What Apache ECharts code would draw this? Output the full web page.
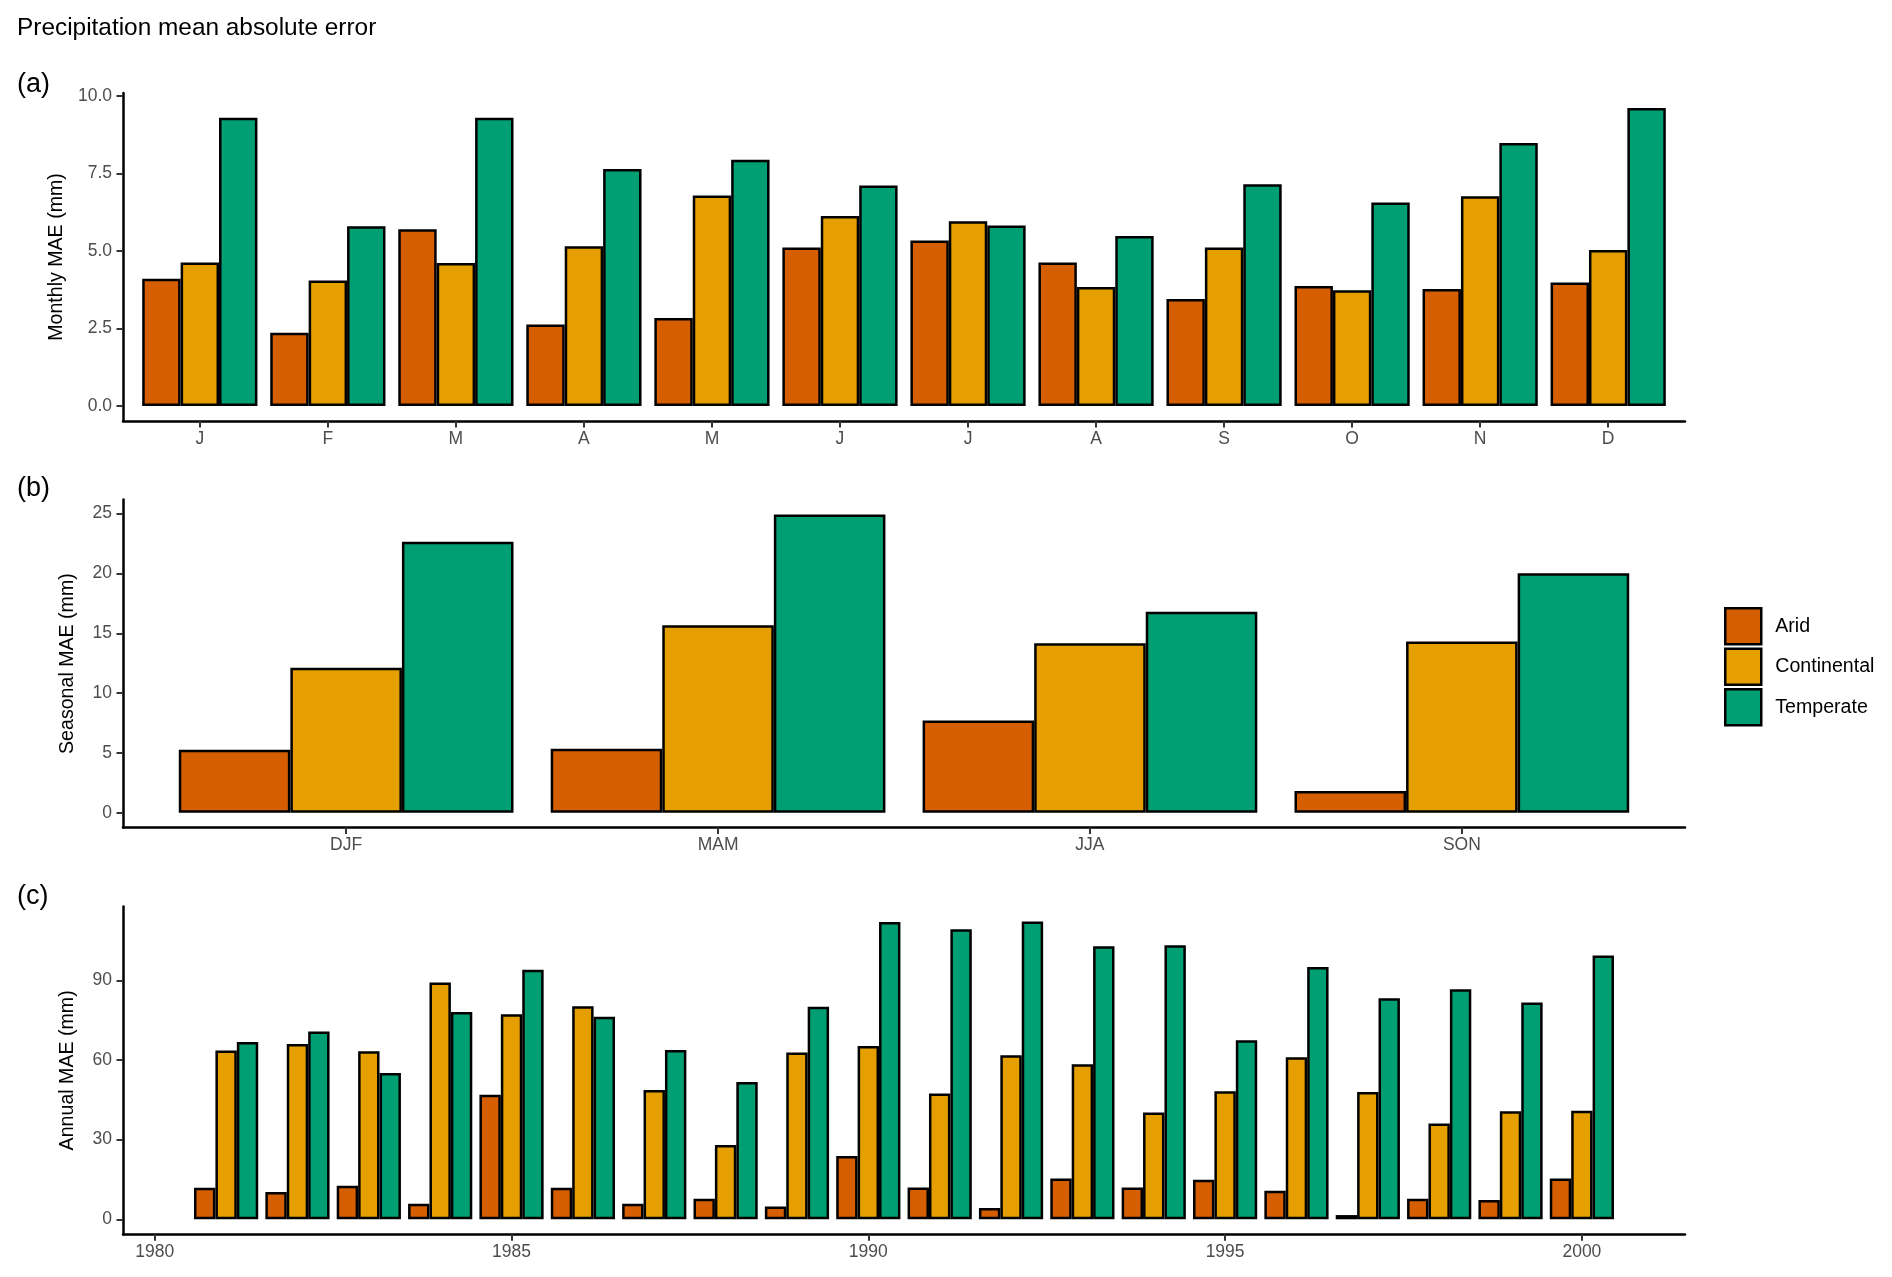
<!DOCTYPE html>
<html><head><meta charset="utf-8">
<script src="https://cdn.jsdelivr.net/npm/echarts@6/dist/echarts.min.js"></script>
<style>html,body{margin:0;padding:0;background:#fff}#c{width:1892px;height:1277px}</style>
</head><body><div id="c"></div>
<script>
// ---------- data ----------
const regions = ['Arid', 'Continental', 'Temperate'];
const monthKeys = ['Jan','Feb','Mar','Apr','May','Jun','Jul','Aug','Sep','Oct','Nov','Dec'];
const monthLabels = ['J','F','M','A','M','J','J','A','S','O','N','D'];
const monthlyArid        = [4.10, 2.36, 5.70, 2.63, 2.84, 5.11, 5.34, 4.63, 3.45, 3.87, 3.77, 3.98];
const monthlyContinental = [4.63, 4.05, 4.61, 5.15, 6.79, 6.13, 5.96, 3.84, 5.11, 3.73, 6.76, 5.03];
const monthlyTemperate   = [9.29, 5.80, 9.29, 7.64, 7.94, 7.11, 5.82, 5.48, 7.15, 6.56, 8.48, 9.61];

const seasons = ['DJF', 'MAM', 'JJA', 'SON'];
const seasonalArid        = [5.27, 5.35, 7.71, 1.81];
const seasonalContinental = [12.12, 15.67, 14.16, 14.32];
const seasonalTemperate   = [22.66, 24.93, 16.81, 20.02];

const years = [1981,1982,1983,1984,1985,1986,1987,1988,1989,1990,1991,1992,1993,1994,1995,1996,1997,1998,1999,2000];
const annualArid        = [11.9, 10.3, 12.6, 5.9, 46.9, 11.9, 5.9, 7.7, 4.8, 23.8, 12.0, 4.3, 15.4, 12.0, 14.9, 10.8, 1.6, 7.7, 7.3, 15.4];
const annualContinental = [63.6, 66.0, 63.3, 89.2, 77.2, 80.2, 48.7, 28.0, 62.8, 65.3, 47.4, 61.8, 58.4, 40.2, 48.2, 61.0, 47.9, 36.1, 40.7, 40.9];
const annualTemperate   = [66.8, 70.7, 55.1, 78.1, 94.0, 76.3, 63.8, 51.7, 80.1, 112.0, 109.2, 112.2, 102.8, 103.2, 67.4, 95.0, 83.3, 86.6, 81.7, 99.4];

const monthlyTicks = [0, 2.5, 5, 7.5, 10];
const seasonalTicks = [0, 5, 10, 15, 20, 25];
const annualTicks = [0, 30, 60, 90];
const yearTicks = [1980, 1985, 1990, 1995, 2000];

// ---------- style / layout ----------
const colors = ['#D55E00', '#E69F00', '#009E73'];
const FONT = '"Liberation Sans", Arial, Helvetica, sans-serif';
const axL = 123, axR = 1685, axW = axR - axL;
const panels = [
  {top: 93, bottom: 421},
  {top: 499.6, bottom: 827.6},
  {top: 906.5, bottom: 1234.2}
];
const tickStyle = {color: '#333333', width: 2};
const lineStyle = {color: '#000', width: 2.5};
const tickLabel = {fontSize: 17.5, color: '#4D4D4D', fontFamily: FONT};

function yRange(arrs) {
  const mx = Math.max(...arrs.flat());
  return [-0.05 * mx, 1.05 * mx];
}

const grids = [], xAxes = [], yAxes = [], series = [];

function addPanel(idx, cats, catFmt, valueArrs, ticks, tickFmt, yName, continuous) {
  const p = panels[idx];
  const [ymin, ymax] = yRange(valueArrs);
  const h = p.bottom - p.top;
  const gA = grids.length;
  grids.push({left: axL, top: p.top, width: axW, height: h});
  let barLeft, barWidth;
  if (continuous) {
    const lo = years[0] - 0.45, hi = years[years.length - 1] + 0.45;
    const pad = 0.05 * (hi - lo);
    const xmin = lo - pad, xmax = hi + pad;
    const sc = axW / (xmax - xmin);
    barLeft = axL + (years[0] - 0.5 - xmin) * sc;
    barWidth = years.length * sc;
    xAxes.push({gridIndex: gA, type: 'value', min: xmin, max: xmax,
      axisLine: {show: true, onZero: false, lineStyle: lineStyle},
      axisTick: {show: true, length: 6.5, lineStyle: tickStyle, customValues: yearTicks},
      axisLabel: Object.assign({show: true, margin: 9, customValues: yearTicks, formatter: v => String(v)}, tickLabel),
      splitLine: {show: false}});
  } else {
    const band = axW / (cats.length + 0.2);
    barLeft = axL + 0.1 * band;
    barWidth = cats.length * band;
    xAxes.push({gridIndex: gA, type: 'value', min: 0, max: 1,
      axisLine: {show: true, onZero: false, lineStyle: lineStyle},
      axisTick: {show: false}, axisLabel: {show: false}, splitLine: {show: false}});
  }
  yAxes.push({gridIndex: gA, type: 'value', min: ymin, max: ymax,
    axisLine: {show: true, lineStyle: lineStyle},
    axisTick: {show: true, length: 6.5, lineStyle: tickStyle, customValues: ticks},
    axisLabel: Object.assign({show: true, margin: 11, customValues: ticks, formatter: tickFmt}, tickLabel),
    splitLine: {show: false},
    name: yName, nameLocation: 'middle', nameGap: 45,
    nameTextStyle: {fontSize: 19.6, color: '#000', fontFamily: FONT}});
  const gB = grids.length;
  grids.push({left: barLeft, top: p.top, width: barWidth, height: h});
  xAxes.push({gridIndex: gB, type: 'category', data: cats,
    axisLine: {show: false, onZero: false},
    axisTick: {show: !continuous, alignWithLabel: true, length: 6.5, lineStyle: tickStyle},
    axisLabel: Object.assign({show: !continuous, margin: 9, formatter: catFmt}, tickLabel),
    splitLine: {show: false}});
  yAxes.push({gridIndex: gB, type: 'value', min: ymin, max: ymax, show: false});
  valueArrs.forEach((arr, k) => {
    series.push({type: 'bar', name: regions[k], xAxisIndex: gB, yAxisIndex: gB,
      data: arr, barGap: '0%', barCategoryGap: '10%',
      itemStyle: {color: colors[k], borderColor: '#000', borderWidth: 2.5},
      emphasis: {disabled: true}});
  });
}

addPanel(0, monthKeys, (v, i) => monthLabels[i],
  [monthlyArid, monthlyContinental, monthlyTemperate], monthlyTicks, v => v.toFixed(1), 'Monthly MAE (mm)', false);
addPanel(1, seasons, v => v,
  [seasonalArid, seasonalContinental, seasonalTemperate], seasonalTicks, v => String(v), 'Seasonal MAE (mm)', false);
addPanel(2, years.map(String), v => v,
  [annualArid, annualContinental, annualTemperate], annualTicks, v => String(v), 'Annual MAE (mm)', true);

const chart = echarts.init(document.getElementById('c'), null, {renderer: 'canvas'});
chart.setOption({
  animation: false,
  backgroundColor: '#fff',
  title: {text: 'Precipitation mean absolute error', left: 17, top: 16, padding: 0,
    textStyle: {fontSize: 24.4, fontWeight: 'normal', color: '#000', fontFamily: FONT}},
  legend: {data: regions, orient: 'vertical', left: 1724, top: 607, padding: 0,
    icon: 'rect', itemWidth: 36, itemHeight: 36, itemGap: 2,
    itemStyle: {borderColor: '#000', borderWidth: 2.5},
    textStyle: {fontSize: 19.6, color: '#000', fontFamily: FONT, padding: [0, 0, 0, 9]},
    selectedMode: false},
  graphic: [
    {type: 'text', left: 17, top: 71.5, style: {text: '(a)', fontSize: 27, fill: '#000', fontFamily: FONT}},
    {type: 'text', left: 17, top: 475.5, style: {text: '(b)', fontSize: 27, fill: '#000', fontFamily: FONT}},
    {type: 'text', left: 17, top: 883, style: {text: '(c)', fontSize: 27, fill: '#000', fontFamily: FONT}}
  ],
  grid: grids,
  xAxis: xAxes,
  yAxis: yAxes,
  series: series
});
</script></body></html>
